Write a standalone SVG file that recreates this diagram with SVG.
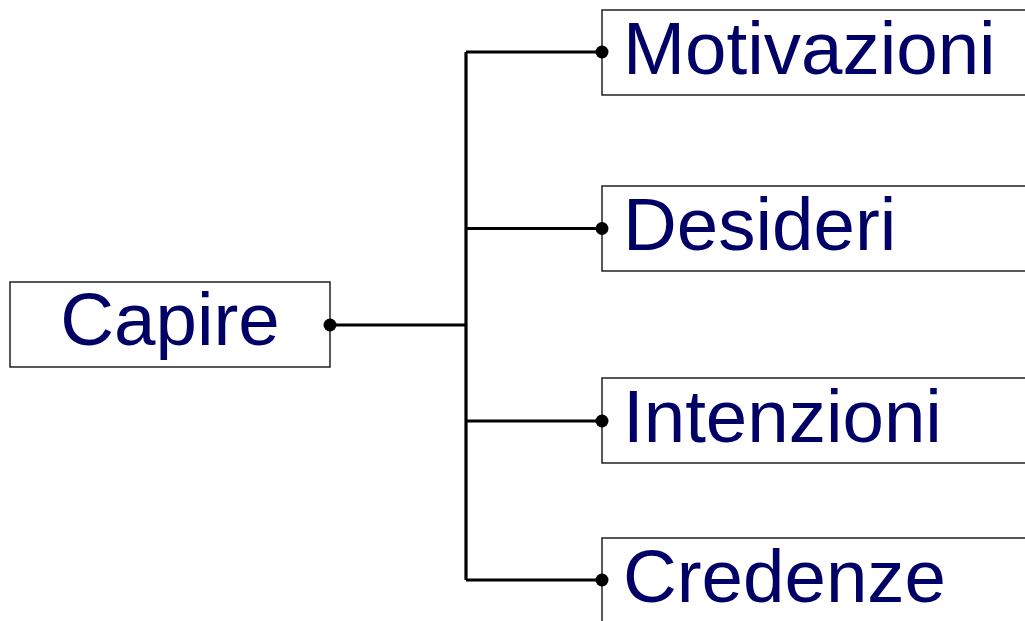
<svg xmlns="http://www.w3.org/2000/svg" width="1025" height="621" viewBox="0 0 1025 621">
  <style>
    .box { fill: #ffffff; stroke: #222222; stroke-width: 1.5; }
    .lbl { font-family: "Liberation Sans", Arial, sans-serif; font-size: 74.5px; fill: #000066; }
    .conn { fill: none; stroke: #000000; stroke-width: 3.2; }
    .dot { fill: #000000; }
  </style>
  <rect width="1025" height="621" fill="#ffffff"/>
  <g id="connectors">
    <path class="conn" d="M330,325 H466 M466,52 V580 M466,52 H602 M466,228.5 H602 M466,421 H602 M466,580 H602"/>
  </g>
  <g id="node-capire">
    <rect class="box" x="10" y="282" width="320" height="85"/>
    <text class="lbl" x="170" y="344.5" text-anchor="middle">Capire</text>
    <circle class="dot" cx="330" cy="325" r="6.5"/>
  </g>
  <g id="node-motivazioni">
    <rect class="box" x="602" y="10" width="440" height="85"/>
    <text class="lbl" x="623" y="74">Motivazioni</text>
    <circle class="dot" cx="602" cy="52" r="6.5"/>
  </g>
  <g id="node-desideri">
    <rect class="box" x="602" y="186" width="440" height="85"/>
    <text class="lbl" x="623" y="249.5">Desideri</text>
    <circle class="dot" cx="602" cy="228.5" r="6.5"/>
  </g>
  <g id="node-intenzioni">
    <rect class="box" x="602" y="378" width="440" height="85"/>
    <text class="lbl" x="623" y="441.5">Intenzioni</text>
    <circle class="dot" cx="602" cy="421" r="6.5"/>
  </g>
  <g id="node-credenze">
    <rect class="box" x="602" y="538" width="440" height="85"/>
    <text class="lbl" x="623" y="601.5">Credenze</text>
    <circle class="dot" cx="602" cy="580" r="6.5"/>
  </g>
</svg>
